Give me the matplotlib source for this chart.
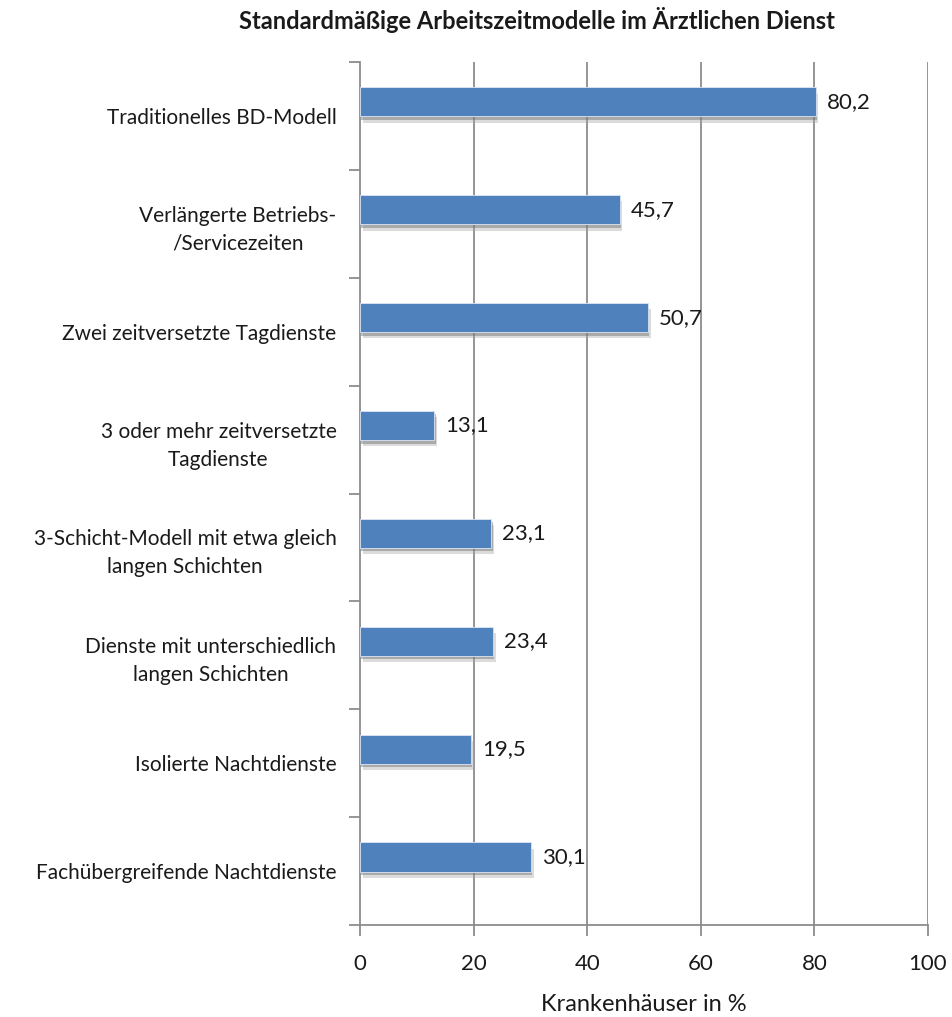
import matplotlib
matplotlib.use("Agg")
import matplotlib.pyplot as plt
import matplotlib.patheffects as pe
import numpy as np

plt.rcParams['font.family'] = ['Lato', 'DejaVu Sans']

categories = ["Traditionelles BD-Modell",
              "Verlängerte Betriebs-\n/Servicezeiten",
              "Zwei zeitversetzte Tagdienste",
              "3 oder mehr zeitversetzte\nTagdienste",
              "3-Schicht-Modell mit etwa gleich\nlangen Schichten",
              "Dienste mit unterschiedlich\nlangen Schichten",
              "Isolierte Nachtdienste",
              "Fachübergreifende Nachtdienste"]
values = [80.2, 45.7, 50.7, 13.1, 23.1, 23.4, 19.5, 30.1]
value_labels = ["80,2", "45,7", "50,7", "13,1", "23,1", "23,4", "19,5", "30,1"]
xticks = [0, 20, 40, 60, 80, 100]

title = "Standardmäßige Arbeitszeitmodelle im Ärztlichen Dienst"
xlabel = "Krankenhäuser in %"

fig = plt.figure(figsize=(9.52, 10.17), dpi=100)
ax = fig.add_axes([360/952, 1-925/1017, (928-360)/952, (925-62)/1017])

pos = np.arange(len(categories))
gray = "#8c8c8c"

# gridlines
for x in xticks[1:]:
  ax.axvline(x, color=gray, lw=1.3, zorder=0)

bars = ax.barh(pos - 0.13, values, height=0.27, color="#4f81bd",
               edgecolor="#dce6f2", linewidth=0.6, zorder=3)
for b in bars:
  b.set_path_effects([pe.SimplePatchShadow(offset=(2, -4.5), shadow_rgbFace="#a5a5a5", alpha=0.4),
                      pe.SimplePatchShadow(offset=(1, -2.5), shadow_rgbFace="#6f6f6f", alpha=0.45),
                      pe.Normal()])

for p, v, lab in zip(pos, values, value_labels):
  ax.annotate(lab, (v, p - 0.13), xytext=(8, 0), textcoords="offset points",
              va="center", ha="left", fontsize=16, color="#1a1a1a", zorder=4)

ax.set_xlim(0, 100)
ax.set_ylim(len(categories) - 0.5, -0.5)

ax.set_xticks(xticks)
ax.set_xticklabels([str(x) for x in xticks], fontsize=16, color="#1a1a1a")
ax.tick_params(axis="x", length=8, color=gray, width=1.3, pad=13)

ax.set_yticks(np.arange(len(categories) + 1) - 0.5)
ax.set_yticklabels([])
ax.tick_params(axis="y", which="major", length=8, color=gray, width=1.3)
ax.set_yticks(pos, minor=True)
ax.set_yticklabels(categories, minor=True, fontsize=15, color="#1a1a1a",
                   multialignment="center", linespacing=1.5)
ax.tick_params(axis="y", which="minor", length=0, pad=17)

for s in ["top", "right"]:
  ax.spines[s].set_visible(False)
for s in ["left", "bottom"]:
  ax.spines[s].set_color(gray)
  ax.spines[s].set_linewidth(1.3)

ax.set_xlabel(xlabel, fontsize=17, color="#1a1a1a", labelpad=14)
fig.text(537/952, 1-20/1017, title, ha="center", va="center",
         fontsize=17, fontweight="bold", color="#1a1a1a")

fig.savefig("out.png", dpi=100)
